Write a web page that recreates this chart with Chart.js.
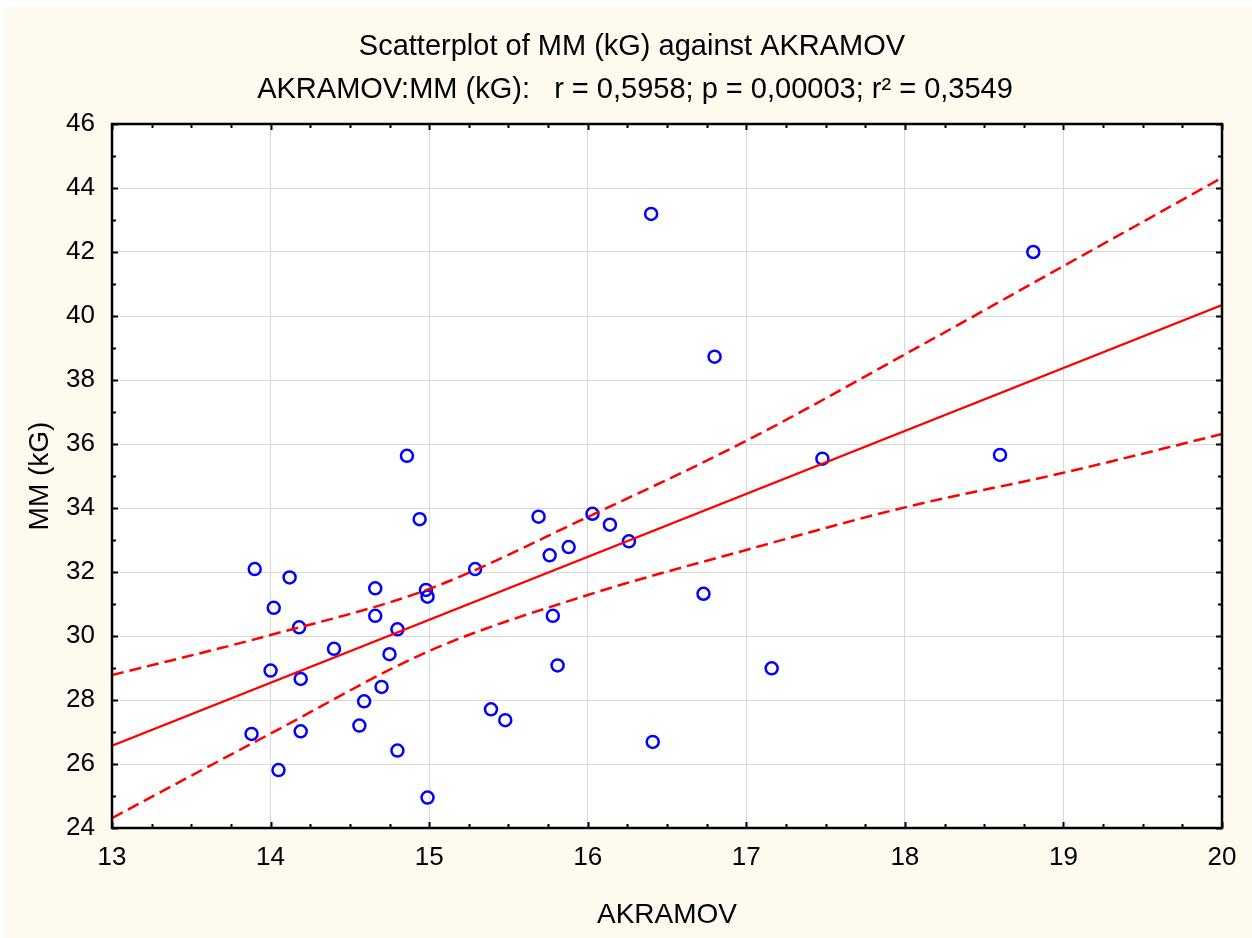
<!DOCTYPE html>
<html>
<head>
<meta charset="utf-8">
<script src="https://cdn.jsdelivr.net/npm/chart.js@4/dist/chart.umd.min.js"></script>
<style>
  html, body { margin: 0; padding: 0; background: #ffffff; }
  #wrap { width: 1252px; height: 938px; }
</style>
</head>
<body>
<div id="wrap"><canvas id="myChart" width="1252" height="938"></canvas></div>
<script>
'use strict'

// AKRAMOV values (x) and MM (kG) values (y)
const akramov = [13.90, 14.12, 14.02, 14.18, 14.66, 14.66, 14.98, 14.99, 14.80, 14.40,
  14.75, 14.00, 14.19, 14.70, 14.59, 13.88, 14.19, 14.56, 14.80, 14.05,
  14.86, 14.94, 15.29, 14.99, 15.39, 15.48, 15.69, 16.03, 16.14, 15.88,
  15.76, 16.26, 15.78, 15.81, 16.40, 16.80, 17.48, 16.73, 17.16, 16.41,
  18.60, 18.81];
const mm = [32.09, 31.83, 30.88, 30.27, 31.49, 30.63, 31.44, 31.23, 30.21, 29.60,
  29.43, 28.92, 28.66, 28.41, 27.96, 26.94, 27.02, 27.20, 26.42, 25.81,
  35.63, 33.65, 32.09, 24.95, 27.71, 27.37, 33.73, 33.82, 33.48, 32.78,
  32.52, 32.96, 30.63, 29.08, 43.19, 38.73, 35.54, 31.32, 28.99, 26.69,
  35.66, 42.00];

// fitted line ends and 95% band
const fitX = [13, 20];
const fitY = [26.57, 40.34];
const bandX = [13, 14, 15, 16, 17, 18, 19, 20];
const bandUpper = [28.78, 30.03, 31.47, 33.72, 36.10, 38.80, 41.56, 44.32];
const bandLower = [24.31, 26.95, 29.53, 31.28, 32.69, 34.02, 35.10, 36.31];

const xTicks = [13, 14, 15, 16, 17, 18, 19, 20];
const yTicks = [24, 26, 28, 30, 32, 34, 36, 38, 40, 42, 44, 46];

const title1 = 'Scatterplot of MM (kG) against AKRAMOV';
const title2 = 'AKRAMOV:MM (kG):   r = 0,5958; p = 0,00003; r² = 0,3549';

const FONT = '"Liberation Sans", Arial, sans-serif';
const cream = '#fffaf0';

let points = akramov.map((v, i) => ({ x: v, y: mm[i] }));
let fitLine = fitX.map((v, i) => ({ x: v, y: fitY[i] }));
let upper = bandX.map((v, i) => ({ x: v, y: bandUpper[i] }));
let lower = bandX.map((v, i) => ({ x: v, y: bandLower[i] }));

const frame = {
  id: 'frame',
  beforeDraw(chart) {
    const c = chart.ctx;
    const a = chart.chartArea;
    c.save();
    c.fillStyle = '#ffffff';
    c.fillRect(0, 0, chart.width, chart.height);
    c.fillStyle = cream;
    c.fillRect(4, 7, chart.width - 4, chart.height - 7);
    c.fillStyle = '#ffffff';
    c.fillRect(a.left, a.top, a.right - a.left, a.bottom - a.top);
    c.restore();
  },
  afterDraw(chart) {
    const c = chart.ctx;
    const a = chart.chartArea;
    const xs = chart.scales.x;
    const ys = chart.scales.y;
    c.save();
    c.strokeStyle = '#000000';
    c.lineWidth = 2;
    c.beginPath();
    // x ticks every 0.25, on top and bottom, pointing in
    for (let k = 0; k <= 28; k++) {
      let px = Math.round(xs.getPixelForValue(13 + k * 0.25)) + 0.5;
      let len = (k % 4 === 0) ? 6 : 4;
      c.moveTo(px, a.bottom); c.lineTo(px, a.bottom - len);
      c.moveTo(px, a.top); c.lineTo(px, a.top + len);
    }
    // y ticks every 1, on left and right, pointing in
    for (let k = 0; k <= 22; k++) {
      let py = Math.round(ys.getPixelForValue(24 + k)) + 0.5;
      let len = (k % 2 === 0) ? 6 : 4;
      c.moveTo(a.left, py); c.lineTo(a.left + len, py);
      c.moveTo(a.right, py); c.lineTo(a.right - len, py);
    }
    c.stroke();
    c.lineWidth = 2.5;
    c.strokeRect(a.left, a.top, a.right - a.left, a.bottom - a.top);

    c.fillStyle = '#000000';
    c.textAlign = 'center';
    c.textBaseline = 'alphabetic';
    c.font = '29px ' + FONT;
    c.fillText(title1, (a.left + a.right) / 2 - 35, 55);
    c.fillText(title2, (a.left + a.right) / 2 - 32, 98);
    c.font = '28px ' + FONT;
    c.fillText('AKRAMOV', (a.left + a.right) / 2, 923);
    c.translate(48, (a.top + a.bottom) / 2);
    c.rotate(-Math.PI / 2);
    c.fillText('MM (kG)', 0, 0);
    c.restore();
  }
};

let ctx = document.getElementById('myChart').getContext('2d');

new Chart(ctx, {
  type: 'scatter',
  data: {
    datasets: [
      {
        label: 'MM (kG)',
        data: points,
        order: 2,
        pointRadius: 6,
        pointBorderWidth: 2.5,
        pointBackgroundColor: 'rgba(0,0,0,0)',
        pointBorderColor: '#0000ff',
        showLine: false
      },
      {
        label: 'fit',
        data: fitLine,
        order: 1,
        showLine: true,
        borderColor: '#ff0000',
        borderWidth: 2.3,
        pointRadius: 0
      },
      {
        label: 'upper',
        data: upper,
        order: 1,
        showLine: true,
        borderColor: '#ff0000',
        borderWidth: 2.5,
        borderDash: [12, 6],
        cubicInterpolationMode: 'monotone',
        pointRadius: 0
      },
      {
        label: 'lower',
        data: lower,
        order: 1,
        showLine: true,
        borderColor: '#ff0000',
        borderWidth: 2.5,
        borderDash: [12, 6],
        cubicInterpolationMode: 'monotone',
        pointRadius: 0
      }
    ]
  },
  plugins: [frame],
  options: {
    responsive: false,
    animation: false,
    layout: { padding: { top: 124, right: 30, left: 0, bottom: 0 } },
    plugins: {
      legend: { display: false },
      tooltip: { enabled: false },
      title: { display: false }
    },
    scales: {
      x: {
        type: 'linear',
        min: 13,
        max: 20,
        afterBuildTicks(s) { s.ticks = xTicks.map(v => ({ value: v })); },
        afterFit(s) { s.height = 110; },
        grid: { color: '#d9d9d9', lineWidth: 1, drawTicks: false },
        border: { display: false },
        ticks: { color: '#000000', padding: 14, font: { family: FONT, size: 26 } }
      },
      y: {
        type: 'linear',
        min: 24,
        max: 46,
        afterBuildTicks(s) { s.ticks = yTicks.map(v => ({ value: v })); },
        afterFit(s) { s.width = 112; },
        grid: { color: '#d9d9d9', lineWidth: 1, drawTicks: false },
        border: { display: false },
        ticks: { color: '#000000', padding: 17, font: { family: FONT, size: 26 } }
      }
    }
  }
});
</script>
</body>
</html>
